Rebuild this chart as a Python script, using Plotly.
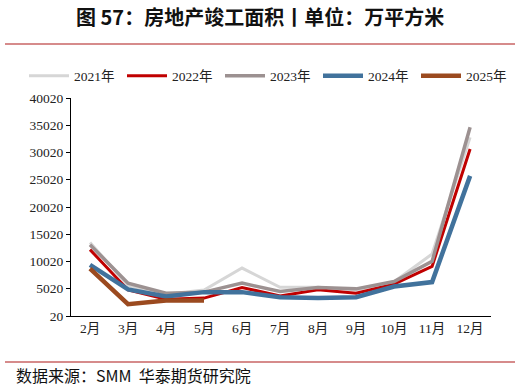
import plotly.graph_objects as go

months = ["2月", "3月", "4月", "5月", "6月", "7月", "8月", "9月", "10月", "11月", "12月"]
y2021 = [13500, 5600, 4000, 4800, 8820, 5300, 5300, 4800, 6300, 11400, 32800]
y2022 = [12200, 4800, 3100, 3300, 5250, 3700, 4820, 4200, 5870, 9120, 30650]
y2023 = [13100, 6050, 4200, 4400, 6050, 4500, 5250, 5000, 6350, 10040, 34650]
y2024 = [9400, 4900, 3600, 4400, 4400, 3470, 3300, 3470, 5420, 6240, 25730]
y2025 = [8700, 2200, 2850, 2850]
tick_vals = [20, 5020, 10020, 15020, 20020, 25020, 30020, 35020, 40020]
tick_text = [str(v) for v in tick_vals]

series = [
    ("2021年", y2021, "#D6D6D6", 3),
    ("2022年", y2022, "#C00000", 3),
    ("2023年", y2023, "#9C9191", 3.5),
    ("2024年", y2024, "#41729C", 4.5),
    ("2025年", y2025, "#9B4A1F", 4.5),
]

fig = go.Figure()
for name, vals, color, w in series:
    fig.add_trace(go.Scatter(
        x=months[:len(vals)], y=vals, name=name, mode="lines",
        line=dict(color=color, width=w),
    ))

serif = "Liberation Serif, Times New Roman, Noto Sans CJK SC, serif"
cjk = "Noto Sans CJK SC, sans-serif"

L, R, T, B = 71, 491, 98, 316
PW, PH = R - L, B - T

def px(x):
    return (x - L) / PW

def py(y):
    return (B - y) / PH

fig.update_layout(
    width=521, height=387,
    margin=dict(l=L, r=521 - R, t=T, b=387 - B),
    paper_bgcolor="white", plot_bgcolor="white",
    font=dict(family=serif, size=13.5, color="#222"),
    showlegend=True,
    legend=dict(orientation="h", xref="paper", yref="paper",
                x=px(24), xanchor="left", y=py(76), yanchor="middle",
                font=dict(family=serif, size=13.5, color="#222"),
                itemwidth=40, entrywidth=43, entrywidthmode="pixels",
                tracegroupgap=0, bgcolor="rgba(0,0,0,0)"),
    xaxis=dict(
        type="category", categoryorder="array", categoryarray=months,
        range=[-0.5, 10.55], showgrid=False, zeroline=False,
        showline=True, linecolor="#000", linewidth=1, ticks="",
        tickfont=dict(family=serif, size=13.5, color="#222"),
    ),
    yaxis=dict(
        range=[20, 40020], tickvals=tick_vals, ticktext=tick_text,
        showgrid=False, zeroline=False,
        showline=True, linecolor="#000", linewidth=1, ticks="outside",
        ticklen=4, tickcolor="#000",
        tickfont=dict(family=serif, size=13.5, color="#222"),
    ),
)

fig.add_annotation(
    text="<b>图 57：房地产竣工面积丨单位：万平方米</b>",
    xref="paper", yref="paper", x=px(260), y=py(17),
    showarrow=False, xanchor="center", yanchor="middle",
    font=dict(family=cjk, size=20, color="#111"),
)
fig.add_annotation(
    text="数据来源：SMM  华泰期货研究院",
    xref="paper", yref="paper", x=px(14), y=py(375),
    showarrow=False, xanchor="left", yanchor="middle",
    font=dict(family=cjk, size=16, color="#111"),
)
for yy in (44, 362):
    fig.add_shape(type="line", xref="paper", yref="paper",
                  x0=px(5), x1=px(515), y0=py(yy), y1=py(yy),
                  line=dict(color="#C96565", width=1.5))

fig.write_html("out.html", config={"displayModeBar": False},
               post_script="document.body.style.margin='0px';")
